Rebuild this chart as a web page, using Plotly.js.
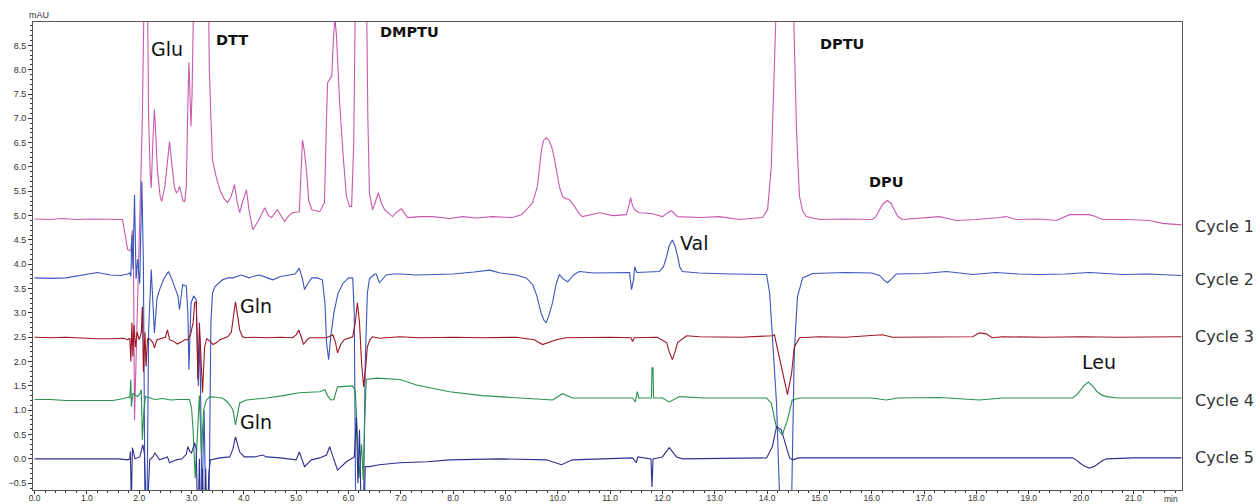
<!DOCTYPE html>
<html>
<head>
<meta charset="utf-8">
<script src="https://cdn.plot.ly/plotly-3.0.1.min.js"></script>
<style>html,body{margin:0;padding:0;background:#fff;}#chart{width:1260px;height:504px;}</style>
</head>
<body>
<div id="chart"></div>
<script>
// ---- Data (time in min, absorbance in mAU) ----
const cycleNames = ["Cycle 1", "Cycle 2", "Cycle 3", "Cycle 4", "Cycle 5"];

const c1_t = [0,0.3,0.55,0.8,1.1,1.4,1.68,1.78,1.84,1.87,1.89,1.91,1.98,2.06,2.09,2.12,2.16,2.18,2.21,2.23,2.26,2.29,2.31,2.35,2.40,2.43,2.49,2.55,2.58,2.62,2.67,2.71,2.74,2.77,2.80,2.84,2.87,2.90,2.93,2.95,2.97,2.99,3.01,3.03,3.05,3.10,3.20,3.28,3.32,3.34,3.37,3.40,3.47,3.54,3.62,3.69,3.76,3.82,3.87,3.92,3.98,4.05,4.10,4.17,4.28,4.40,4.47,4.53,4.64,4.72,4.78,4.86,4.93,5.06,5.10,5.12,5.16,5.20,5.24,5.30,5.45,5.54,5.58,5.60,5.64,5.68,5.71,5.74,5.77,5.80,5.83,5.90,5.96,6.02,6.06,6.10,6.13,6.16,6.22,6.30,6.34,6.37,6.40,6.46,6.52,6.57,6.63,6.69,6.84,6.93,7.01,7.13,7.36,7.61,7.93,8.18,8.45,8.75,9.13,9.30,9.40,9.52,9.61,9.65,9.69,9.73,9.78,9.83,9.88,9.93,9.97,10.03,10.09,10.15,10.22,10.32,10.40,10.47,10.80,11.05,11.31,11.36,11.39,11.43,11.47,11.56,11.81,12.00,12.10,12.17,12.29,12.71,13.09,13.47,13.91,14.01,14.08,14.14,14.18,14.25,14.35,14.45,14.50,14.54,14.56,14.60,14.62,14.68,14.75,15.0,15.5,16.01,16.08,16.15,16.22,16.30,16.37,16.43,16.50,16.59,17.0,17.29,17.62,18.0,18.44,18.57,18.76,19.2,19.53,19.65,19.78,20.16,20.28,20.41,20.9,21.31,21.56,21.92];
const c1_y = [4.93,4.92,4.94,4.92,4.93,4.92,4.92,4.30,4.28,4.70,4.30,0.80,3.5,7.0,9.3,16,9.3,7.0,5.9,5.57,6.5,7.18,6.8,5.9,5.4,5.29,5.6,6.3,6.52,6.1,5.6,5.47,5.5,5.6,5.45,5.3,5.29,5.6,7.3,8.15,7.5,6.83,7.5,8.7,9.5,16,20,14,9.5,8.0,7.0,6.15,5.8,5.53,5.35,5.27,5.4,5.64,5.3,5.06,5.3,5.53,5.1,4.71,4.9,5.16,5.0,4.96,5.12,4.98,4.88,5.0,5.06,5.08,6.0,6.56,6.3,5.88,5.3,5.12,5.08,5.27,7.0,7.73,7.8,7.87,8.6,9.05,8.7,7.9,7.32,6.2,5.39,5.19,5.19,6.5,8.5,9.5,18,14,9.5,7.0,5.47,5.12,5.3,5.47,5.25,5.12,4.98,5.08,5.14,4.96,4.98,4.98,4.94,4.98,4.95,4.98,4.96,5.02,5.12,5.27,5.6,5.95,6.36,6.55,6.60,6.55,6.42,6.2,5.95,5.6,5.39,5.35,5.33,5.19,5.05,4.98,5.06,5.0,5.02,5.2,5.37,5.2,5.12,5.06,5.04,4.98,5.06,5.10,4.98,4.96,4.98,4.92,4.96,5.12,6.0,7.87,9.5,30,40,30,9.5,7.5,6.83,5.8,5.39,5.1,4.98,4.92,4.93,4.92,4.98,5.12,5.25,5.31,5.25,5.12,4.98,4.92,4.95,4.98,4.90,4.92,4.96,4.98,4.92,4.93,4.90,4.96,5.02,5.02,4.98,4.92,4.92,4.90,4.84,4.81];

const c2_t = [0,0.3,0.6,0.9,1.2,1.45,1.65,1.78,1.82,1.84,1.86,1.88,1.91,1.94,1.97,2.01,2.05,2.08,2.11,2.15,2.18,2.23,2.29,2.34,2.39,2.47,2.56,2.62,2.68,2.74,2.77,2.80,2.83,2.90,2.93,2.95,2.99,3.04,3.09,3.13,3.16,3.20,3.24,3.28,3.33,3.37,3.40,3.45,3.52,3.59,3.70,3.79,3.95,4.10,4.17,4.30,4.45,4.55,4.70,4.85,4.98,5.06,5.12,5.16,5.22,5.30,5.40,5.50,5.55,5.58,5.62,5.66,5.72,5.80,5.89,6.00,6.08,6.11,6.14,6.28,6.32,6.36,6.40,6.50,6.53,6.59,6.65,6.72,6.85,7.0,7.3,7.61,8.0,8.4,8.70,8.9,9.2,9.40,9.52,9.60,9.68,9.74,9.78,9.83,9.90,9.97,10.03,10.10,10.19,10.30,10.41,10.7,11.05,11.37,11.41,11.45,11.47,11.51,11.94,12.02,12.08,12.13,12.19,12.24,12.29,12.33,12.38,12.7,13.3,13.99,14.05,14.10,14.18,14.24,14.35,14.47,14.52,14.58,14.68,14.87,15.5,16.0,16.15,16.23,16.30,16.38,16.47,17.0,17.43,17.93,18.38,18.8,19.2,19.7,20.16,20.79,21.3,21.92];
const c2_y = [3.72,3.71,3.72,3.78,3.83,3.78,3.77,3.80,3.82,3.75,4.6,3.9,5.43,3.7,4.1,3.6,5.7,4.0,-1.0,-1.0,2.65,3.89,2.59,3.3,3.48,3.7,3.85,3.7,3.52,3.35,3.07,3.3,3.58,3.55,3.0,1.83,3.2,3.35,3.27,1.5,2.5,-1.0,1.0,-1.5,-1.5,2.8,3.41,3.54,3.62,3.68,3.72,3.72,3.78,3.72,3.75,3.78,3.72,3.68,3.75,3.78,3.80,3.92,3.70,3.48,3.60,3.72,3.72,3.68,3.2,2.4,2.04,2.5,3.0,3.4,3.6,3.72,3.72,3.0,-1.5,-1.5,2.0,3.4,3.70,3.80,3.80,3.62,3.70,3.78,3.80,3.80,3.78,3.79,3.80,3.84,3.88,3.82,3.78,3.72,3.58,3.35,3.0,2.84,2.80,2.95,3.21,3.6,3.79,3.70,3.64,3.78,3.85,3.82,3.83,3.83,3.48,3.70,3.95,3.83,3.85,3.95,4.16,4.38,4.50,4.38,4.16,3.95,3.85,3.82,3.80,3.79,3.4,2.51,1.15,-0.8,-3.0,-0.8,2.18,3.33,3.72,3.81,3.83,3.82,3.77,3.68,3.62,3.70,3.80,3.81,3.85,3.79,3.83,3.80,3.79,3.80,3.83,3.79,3.80,3.77];

const c3_t = [0,0.3,0.6,0.9,1.2,1.5,1.70,1.78,1.82,1.84,1.86,1.88,1.90,1.93,1.96,2.00,2.04,2.06,2.08,2.11,2.13,2.16,2.20,2.26,2.29,2.34,2.42,2.50,2.54,2.58,2.65,2.73,2.80,2.87,2.93,2.98,3.03,3.06,3.09,3.12,3.15,3.18,3.21,3.25,3.29,3.35,3.41,3.48,3.54,3.62,3.69,3.76,3.80,3.84,3.88,3.92,3.97,4.01,4.2,4.43,4.7,4.93,5.0,5.05,5.10,5.14,5.20,5.26,5.58,5.70,5.75,5.79,5.85,5.92,6.08,6.13,6.17,6.21,6.25,6.29,6.33,6.36,6.41,6.46,6.59,6.98,7.36,8.0,8.56,9.2,9.55,9.71,9.97,10.16,11.0,11.40,11.43,11.46,11.9,12.08,12.13,12.19,12.24,12.29,12.46,12.71,13.5,14.10,14.14,14.20,14.29,14.39,14.47,14.52,14.62,15.0,15.5,16.2,16.4,17.0,17.93,18.06,18.19,18.30,18.5,19.3,20.0,20.7,21.3,21.92];
const c3_y = [2.50,2.49,2.50,2.48,2.47,2.47,2.48,2.45,2.48,2.0,2.8,2.1,2.75,2.3,2.6,2.45,2.6,3.13,1.79,2.6,1.9,2.47,2.47,2.39,2.28,2.45,2.47,2.5,2.65,2.45,2.42,2.36,2.40,2.45,2.45,2.55,2.8,3.21,3.23,1.63,2.8,2.0,1.36,2.3,2.47,2.42,2.35,2.39,2.45,2.48,2.51,2.6,2.9,3.23,2.95,2.65,2.52,2.49,2.50,2.49,2.50,2.49,2.55,2.65,2.5,2.35,2.44,2.49,2.49,2.55,2.4,2.18,2.35,2.45,2.51,2.8,3.21,2.8,1.97,1.48,1.9,2.30,2.45,2.51,2.48,2.51,2.49,2.50,2.49,2.50,2.45,2.35,2.45,2.49,2.50,2.49,2.41,2.49,2.50,2.39,2.2,2.04,2.2,2.39,2.53,2.51,2.50,2.53,2.55,2.24,1.83,1.32,1.77,2.30,2.49,2.51,2.50,2.55,2.50,2.51,2.51,2.59,2.57,2.49,2.51,2.50,2.51,2.50,2.51,2.51];

const c4_t = [0,0.3,0.6,0.9,1.2,1.5,1.70,1.80,1.82,1.84,1.85,1.88,1.93,1.97,2.02,2.04,2.06,2.09,2.12,2.20,2.30,2.45,2.60,2.75,2.90,2.96,3.00,3.03,3.07,3.11,3.15,3.19,3.23,3.28,3.35,3.50,3.59,3.69,3.79,3.84,3.88,3.92,4.05,4.43,4.75,5.06,5.45,5.55,5.60,5.66,5.72,5.79,6.08,6.13,6.17,6.20,6.25,6.28,6.31,6.34,6.53,6.98,7.30,7.93,8.56,9.21,9.90,10.09,10.28,11.0,11.43,11.48,11.52,11.55,11.79,11.80,11.82,11.83,12.0,12.13,12.33,12.8,13.5,13.99,14.08,14.18,14.29,14.39,14.48,14.62,15.3,16.0,16.28,16.5,17.3,18.06,18.5,19.3,19.84,19.92,19.97,20.05,20.14,20.22,20.31,20.40,20.49,20.7,21.3,21.92];
const c4_y = [1.22,1.22,1.20,1.20,1.19,1.20,1.24,1.27,1.25,1.63,1.07,1.35,1.30,1.28,1.35,1.42,0.39,1.0,1.28,1.25,1.22,1.24,1.21,1.22,1.23,1.22,1.05,0.6,-0.4,0.4,1.3,0.1,1.0,1.2,1.28,1.26,1.25,1.17,1.01,0.70,0.9,1.15,1.21,1.25,1.30,1.36,1.38,1.42,1.30,1.21,1.22,1.48,1.50,1.4,0.5,-0.4,0.3,-0.43,0.8,1.63,1.66,1.63,1.52,1.38,1.30,1.25,1.21,1.34,1.25,1.25,1.25,1.17,1.38,1.25,1.25,1.87,1.87,1.25,1.25,1.17,1.28,1.25,1.25,1.25,1.15,0.64,0.49,0.80,1.21,1.25,1.25,1.25,1.21,1.25,1.26,1.21,1.25,1.25,1.25,1.32,1.38,1.50,1.58,1.50,1.38,1.31,1.28,1.25,1.25,1.25];

const c5_t = [0,0.4,0.8,1.2,1.6,1.78,1.82,1.83,1.85,1.87,1.92,2.01,2.07,2.10,2.13,2.16,2.20,2.26,2.30,2.39,2.48,2.54,2.58,2.71,2.82,2.90,2.93,2.97,3.00,3.06,3.09,3.12,3.15,3.18,3.21,3.24,3.27,3.30,3.33,3.36,3.54,3.73,3.79,3.84,3.88,3.92,4.01,4.20,4.36,4.43,4.7,5.0,5.06,5.10,5.16,5.29,5.45,5.58,5.64,5.70,5.79,5.96,6.11,6.15,6.18,6.21,6.25,6.29,6.32,6.40,6.59,6.98,7.5,7.93,8.5,8.89,9.78,10.07,10.28,11.0,11.43,11.50,11.53,11.78,11.80,11.82,12.0,12.13,12.27,12.38,13.0,13.99,14.10,14.18,14.27,14.37,14.43,14.49,14.6,15.5,16.5,17.5,18.5,19.5,19.84,19.92,19.97,20.07,20.16,20.26,20.35,20.42,20.49,21.0,21.92];
const c5_y = [0.0,0.0,-0.01,0.0,0.0,-0.02,0.0,0.15,-0.9,0.23,0.0,0.04,0.29,0.1,-1.0,-1.0,-0.02,0.04,0.12,-0.02,0.02,0.04,-0.08,-0.02,0.0,0.1,0.25,0.15,0.12,0.33,0.2,-1.5,0.0,-1.5,-0.2,-1.5,-0.2,-1.5,-0.3,-0.02,0.02,0.04,0.2,0.45,0.3,0.14,0.04,0.04,0.08,0.04,0.02,-0.02,0.14,0.0,-0.16,-0.02,0.02,0.08,0.25,0.05,-0.23,-0.06,0.04,0.86,-0.5,0.6,-1.5,-1.5,-0.16,-0.16,-0.12,-0.08,-0.06,-0.02,0.0,0.0,-0.02,-0.12,-0.02,0.0,0.02,-0.08,0.04,0.0,-0.58,0.0,0.04,0.23,0.04,0.0,0.01,0.02,0.25,0.66,0.60,0.25,0.02,-0.02,0.02,0.02,0.02,0.03,0.02,0.03,0.02,-0.03,-0.08,-0.15,-0.19,-0.15,-0.08,-0.03,0.0,0.02,0.02];

// peak labels
const peakNames = ["Glu","DTT","DMPTU","DPTU","DPU","Val","Gln","Gln","Leu"];
const peakT =     [2.54, 3.78, 7.17, 15.44, 16.28, 12.61, 4.24, 4.24, 20.35];
const peakY =     [8.42, 8.60, 8.77, 8.52, 5.70, 4.44, 3.15, 0.76, 2.00];
const peakBig =   [true,false,false,false,false,true,true,true,true];
const cycleLabelY = [4.77, 3.68, 2.51, 1.21, 0.02];

const colors = ["#c85aae", "#3a56bb", "#9c1424", "#2a9250", "#2e2f8e"];
const series = [[c1_t,c1_y],[c2_t,c2_y],[c3_t,c3_y],[c4_t,c4_y],[c5_t,c5_y]];

const traces = series.map((s, i) => ({
  x: s[0], y: s[1], type: "scatter", mode: "lines", name: cycleNames[i],
  line: {color: colors[i], width: 1.1}, hoverinfo: "skip"
}));

const annotations = [];
peakNames.forEach((n, i) => {
  annotations.push({
    x: peakT[i], y: peakY[i], xref: "x", yref: "y", text: n, showarrow: false,
    xanchor: "center", yanchor: "middle",
    font: peakBig[i] ? {family: "DejaVu Sans, sans-serif", size: 19, color: "#111"}
                     : {family: "DejaVu Sans, sans-serif", size: 14.5, color: "#111", weight: "bold"}
  });
});
cycleNames.forEach((n, i) => {
  annotations.push({
    x: 1.0, xref: "paper", xshift: 11, y: cycleLabelY[i], yref: "y", text: n, showarrow: false,
    xanchor: "left", yanchor: "middle",
    font: {family: "DejaVu Sans, sans-serif", size: 16, color: "#333"}
  });
});
annotations.push({x: 0, xref: "paper", xshift: -6, y: 1, yref: "paper", yanchor: "bottom", xanchor: "left",
  text: "mAU", showarrow: false, font: {family: "Liberation Sans, Arial, sans-serif", size: 9, color: "#333"}});
annotations.push({x: 1, xref: "paper", xshift: -2, y: 0, yref: "paper", yshift: -2, yanchor: "top", xanchor: "right",
  text: "min", showarrow: false, font: {family: "Liberation Sans, Arial, sans-serif", size: 8.5, color: "#333"}});

const layout = {
  width: 1260, height: 504,
  margin: {l: 33, r: 78, t: 22, b: 14},
  paper_bgcolor: "#fff", plot_bgcolor: "#fff",
  showlegend: false,
  xaxis: {
    range: [-0.03, 21.93], dtick: 1, tick0: 0, tickformat: ".1f",
    ticks: "outside", ticklen: 3, tickcolor: "#333", tickwidth: 1, ticklabelstandoff: -3,
    minor: {dtick: 0.2, ticks: "outside", ticklen: 2, tickcolor: "#333", showgrid: false},
    showgrid: false, zeroline: false, showline: true, linecolor: "#555", linewidth: 1, mirror: true,
    tickfont: {family: "Liberation Sans, Arial, sans-serif", size: 8.5, color: "#333"}
  },
  yaxis: {
    range: [-0.64, 8.98], dtick: 0.5, tick0: 0, tickformat: ".1f",
    ticks: "outside", ticklen: 4, tickcolor: "#333", tickwidth: 1,
    minor: {dtick: 0.1, ticks: "outside", ticklen: 2, tickcolor: "#333", showgrid: false},
    showgrid: false, zeroline: false, showline: true, linecolor: "#555", linewidth: 1, mirror: true,
    tickfont: {family: "Liberation Sans, Arial, sans-serif", size: 9, color: "#333"}
  },
  annotations: annotations
};

Plotly.newPlot("chart", traces, layout, {staticPlot: true, displayModeBar: false});
</script>
</body>
</html>
